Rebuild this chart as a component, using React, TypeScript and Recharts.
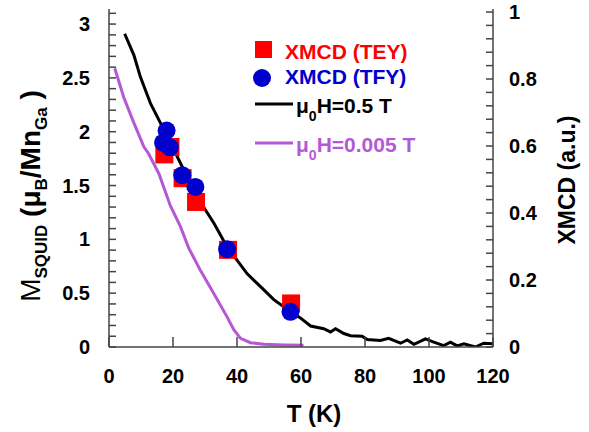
import React from "react";
import { ComposedChart, Line, Scatter, XAxis, YAxis } from "recharts";

// SQUID magnetization, mu0H = 0.5 T (left axis, muB/MnGa)
const tHigh = [4.9, 7.8, 9.8, 13, 16.1, 21.3, 27.6, 32.8, 36.9, 43.2, 48.4, 51.5, 55.7, 59.8, 63, 67.1, 69.2, 70.8, 73.4, 75.5, 79.1, 80.7, 84.8, 87.4, 91.1, 93.2, 95.3, 98.9, 101.5, 104.6, 106.7, 108.8, 110.9, 114.5, 117.1, 120];
const mHigh = [2.91, 2.71, 2.51, 2.26, 2.08, 1.77, 1.39, 1.15, 0.93, 0.68, 0.53, 0.44, 0.35, 0.27, 0.195, 0.17, 0.14, 0.17, 0.125, 0.105, 0.1, 0.07, 0.06, 0.08, 0.035, 0.065, 0.025, 0.075, 0.045, 0.013, 0.045, 0.01, 0.03, 0.0, 0.035, 0.03];

// SQUID magnetization, mu0H = 0.005 T
const tLow = [1.8, 4.6, 7.8, 10.9, 12.3, 15.6, 19.2, 22.3, 24.9, 28.6, 32.7, 36.9, 39, 41.1, 44.2, 48.4, 54.6, 60.8];
const mLow = [2.59, 2.32, 2.08, 1.86, 1.8, 1.61, 1.31, 1.12, 0.92, 0.71, 0.5, 0.28, 0.16, 0.08, 0.04, 0.025, 0.019, 0.016];

// XMCD (right axis, a.u.)
const tTey = [17.3, 19.2, 23, 27.2, 37.2, 56.9];
const xTey = [0.575, 0.597, 0.504, 0.433, 0.29, 0.13];
const tTfy = [16.9, 18, 19, 22.9, 27, 36.9, 56.7];
const xTfy = [0.61, 0.646, 0.596, 0.513, 0.478, 0.292, 0.105];

const xTicks = [0, 20, 40, 60, 80, 100, 120];
const leftTicks = Array.from({ length: 32 }, (_, i) => +(i * 0.1).toFixed(1));
const rightTicks = Array.from({ length: 26 }, (_, i) => +(i * 0.04).toFixed(2));

const RED = "#ff0000";
const BLUE = "#0000cc";
const PURPLE = "#b558d6";
const AXIS = "#444";
const FONT = "'Liberation Sans', Arial, sans-serif";

const pairs = (ts: number[], vs: number[]) => ts.map((t, i) => ({ t, v: vs[i] }));
const highData = pairs(tHigh, mHigh);
const lowData = pairs(tLow, mLow);
const teyData = pairs(tTey, xTey);
const tfyData = pairs(tTfy, xTfy);

const tickFont = { fontFamily: FONT, fontSize: 20, fontWeight: 700, fill: "#000" };

const Square = (props: any) => {
  const s = 18;
  return <rect x={props.cx - s / 2} y={props.cy - s / 2} width={s} height={s} fill={RED} />;
};

const Dot = (props: any) => <circle cx={props.cx} cy={props.cy} r={9} fill={BLUE} />;

const LeftTitle = (props: any) => {
  const vb = props.viewBox;
  const x = vb.x - 9;
  const y = vb.y + vb.height / 2 + 18;
  return (
    <text x={x} y={y} transform={`rotate(-90, ${x}, ${y})`} textAnchor="middle" fontFamily={FONT} fontSize={28} fill="#000">
      <tspan>M</tspan>
      <tspan fontSize={17} fontWeight={700} dy={7}>SQUID</tspan>
      <tspan fontWeight={700} dy={-7}> (μ</tspan>
      <tspan fontSize={17} fontWeight={700} dy={7}>B</tspan>
      <tspan fontWeight={700} dy={-7}>/Mn</tspan>
      <tspan fontSize={17} fontWeight={700} dy={7}>Ga</tspan>
      <tspan fontWeight={700} dy={-7}> )</tspan>
    </text>
  );
};

const RightTitle = (props: any) => {
  const vb = props.viewBox;
  const x = vb.x + vb.width + 22;
  const y = vb.y + vb.height / 2 + 2;
  return (
    <text x={x} y={y} transform={`rotate(-90, ${x}, ${y})`} textAnchor="middle" fontFamily={FONT} fontSize={23} fontWeight={700} fill="#000">
      XMCD (a.u.)
    </text>
  );
};

const Mu0 = ({ x, y, rest, color }: { x: number; y: number; rest: string; color: string }) => (
  <text x={x} y={y} fontFamily={FONT} fontSize={21} fontWeight={700} fill={color}>
    μ<tspan fontSize={14} dy={8}>0</tspan>
    <tspan dy={-8}>{rest}</tspan>
  </text>
);

const LegendBox = () => (
  <svg width={220} height={140} style={{ position: "absolute", left: 245, top: 35 }}>
    <rect x={10} y={6} width={17} height={17} fill={RED} />
    <text x={40} y={24} fontFamily={FONT} fontSize={21} fontWeight={700} fill={RED}>XMCD (TEY)</text>
    <circle cx={17} cy={43} r={9} fill={BLUE} />
    <text x={40} y={49} fontFamily={FONT} fontSize={21} fontWeight={700} fill={BLUE}>XMCD (TFY)</text>
    <line x1={10} x2={48} y1={69} y2={69} stroke="#000" strokeWidth={3} />
    <Mu0 x={51} y={78} rest="H=0.5 T" color="#000" />
    <line x1={10} x2={48} y1={108} y2={108} stroke={PURPLE} strokeWidth={3} />
    <Mu0 x={51} y={117} rest="H=0.005 T" color={PURPLE} />
  </svg>
);

export default function App() {
  return (
    <div style={{ position: "fixed", left: 0, top: 0, width: 589, height: 432, background: "#fff", fontFamily: FONT }}>
      <ComposedChart width={589} height={432} margin={{ top: 9, right: 36, bottom: 5, left: 49 }}>
        <XAxis
          xAxisId="bottom"
          type="number"
          dataKey="t"
          domain={[0, 120]}
          ticks={xTicks}
          interval={0}
          allowDataOverflow
          height={80}
          stroke={AXIS}
          strokeWidth={1.5}
          tickSize={-10}
          tickMargin={32}
          tick={tickFont}
          label={{ value: "T (K)", position: "insideBottom", dx: 13, dy: 0, style: { fontFamily: FONT, fontSize: 24, fontWeight: 700, fill: "#000" } }}
        />
        <XAxis
          xAxisId="top"
          orientation="top"
          type="number"
          dataKey="t"
          domain={[0, 120]}
          ticks={xTicks}
          interval={0}
          allowDataOverflow
          height={0}
          stroke={AXIS}
          strokeWidth={1.5}
          tickSize={-6}
          tick={false}
        />
        <YAxis
          yAxisId="left"
          type="number"
          domain={[0, 3.14]}
          ticks={leftTicks}
          interval={0}
          allowDataOverflow
          width={60}
          stroke={AXIS}
          strokeWidth={1.5}
          tickSize={-7}
          tickMargin={26}
          tick={tickFont}
          tickFormatter={(v: number) => (Math.abs(v * 2 - Math.round(v * 2)) < 1e-6 ? String(v) : "")}
          label={{ content: LeftTitle }}
        />
        <YAxis
          yAxisId="right"
          orientation="right"
          type="number"
          domain={[0, 1.009]}
          ticks={rightTicks}
          interval={0}
          allowDataOverflow
          width={60}
          stroke={AXIS}
          strokeWidth={1.5}
          tickSize={-7}
          tickMargin={23}
          tick={tickFont}
          tickFormatter={(v: number) => (Math.abs(v * 5 - Math.round(v * 5)) < 1e-6 ? String(v) : "")}
          label={{ content: RightTitle }}
        />
        <Line xAxisId="bottom" yAxisId="left" data={lowData} dataKey="v" type="linear" stroke={PURPLE} strokeWidth={3} dot={false} isAnimationActive={false} />
        <Line xAxisId="bottom" yAxisId="left" data={highData} dataKey="v" type="linear" stroke="#000" strokeWidth={3} dot={false} isAnimationActive={false} />
        <Scatter xAxisId="bottom" yAxisId="right" data={teyData} dataKey="v" shape={Square} isAnimationActive={false} />
        <Scatter xAxisId="bottom" yAxisId="right" data={tfyData} dataKey="v" shape={Dot} isAnimationActive={false} />
      </ComposedChart>
      <LegendBox />
    </div>
  );
}
